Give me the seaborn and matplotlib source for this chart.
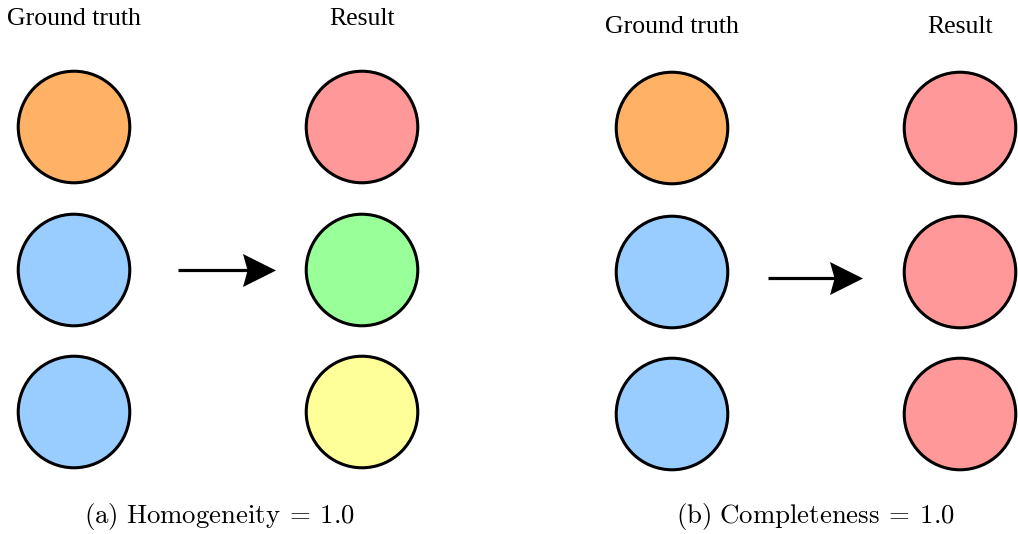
import matplotlib
matplotlib.use("Agg")
import matplotlib.pyplot as plt
from matplotlib.path import Path
import seaborn as sns
import pandas as pd

sns.set_theme(style="white")
plt.rcParams['mathtext.fontset'] = 'cm'

# Data
panels = ["(a) Homogeneity", "(b) Completeness"]
scores = [1.0, 1.0]
column_titles = ["Ground truth", "Result"]
truth_a = ["orange", "blue", "blue"]
result_a = ["red", "green", "yellow"]
truth_b = ["orange", "blue", "blue"]
result_b = ["red", "red", "red"]

palette = {"orange": "#FFB266", "blue": "#99CCFF", "red": "#FF9999",
           "green": "#99FF99", "yellow": "#FFFF99"}

# Layout (pixels)
W, H = 1018, 534
panel_x = [(74, 362), (672, 960)]
panel_y = [(127, 270, 412), (128, 272, 414)]
title_y = [19, 27]
arrow_x = [(178, 276), (768, 863)]
arrow_y = [270, 278]
caption_x = [220, 815]
caption_y = 517
head_len = 33

rows = []
for p, (gt, res) in enumerate([(truth_a, result_a), (truth_b, result_b)]):
    for c, labels in enumerate([gt, res]):
        for r, lab in enumerate(labels):
            rows.append({"x": panel_x[p][c], "y": panel_y[p][r], "cls": lab})
df = pd.DataFrame(rows)

fig = plt.figure(figsize=(W / 100, H / 100), dpi=100)
ax = fig.add_axes([0, 0, 1, 1])
sns.scatterplot(data=df, x="x", y="y", hue="cls", palette=palette, s=6450,
                edgecolor="black", linewidth=2.2, legend=False, ax=ax, zorder=3)
ax.set_xlim(0, W)
ax.set_ylim(H, 0)
ax.axis("off")

# arrowhead marker (stealth-like, concave back)
head_path = Path([(1, 0), (-1, 1.0), (-0.72, 0), (-1, -1.0), (1, 0)],
                 [Path.MOVETO, Path.LINETO, Path.LINETO, Path.LINETO, Path.CLOSEPOLY])

for p in range(2):
    for c in range(2):
        ax.text(panel_x[p][c], title_y[p], column_titles[c], ha="center", va="center",
                fontsize=18.5, family="Liberation Serif", color="black")
    x0, x1 = arrow_x[p]
    y = arrow_y[p]
    ax.plot([x0, x1 - head_len + 6], [y, y], color="black", lw=2.3, solid_capstyle="butt")
    ax.plot([x1 - head_len / 2], [y], marker=head_path, markersize=head_len * 0.72,
            color="black", markeredgewidth=0, linestyle="none")
    label = panels[p].replace(" ", r"\ ")
    ax.text(caption_x[p], caption_y,
            r"$\mathrm{" + label + r"}\:=\:" + f"{scores[p]:.1f}" + r"$",
            ha="center", va="center", fontsize=19.3, color="black")

fig.savefig("out.png", dpi=100)
